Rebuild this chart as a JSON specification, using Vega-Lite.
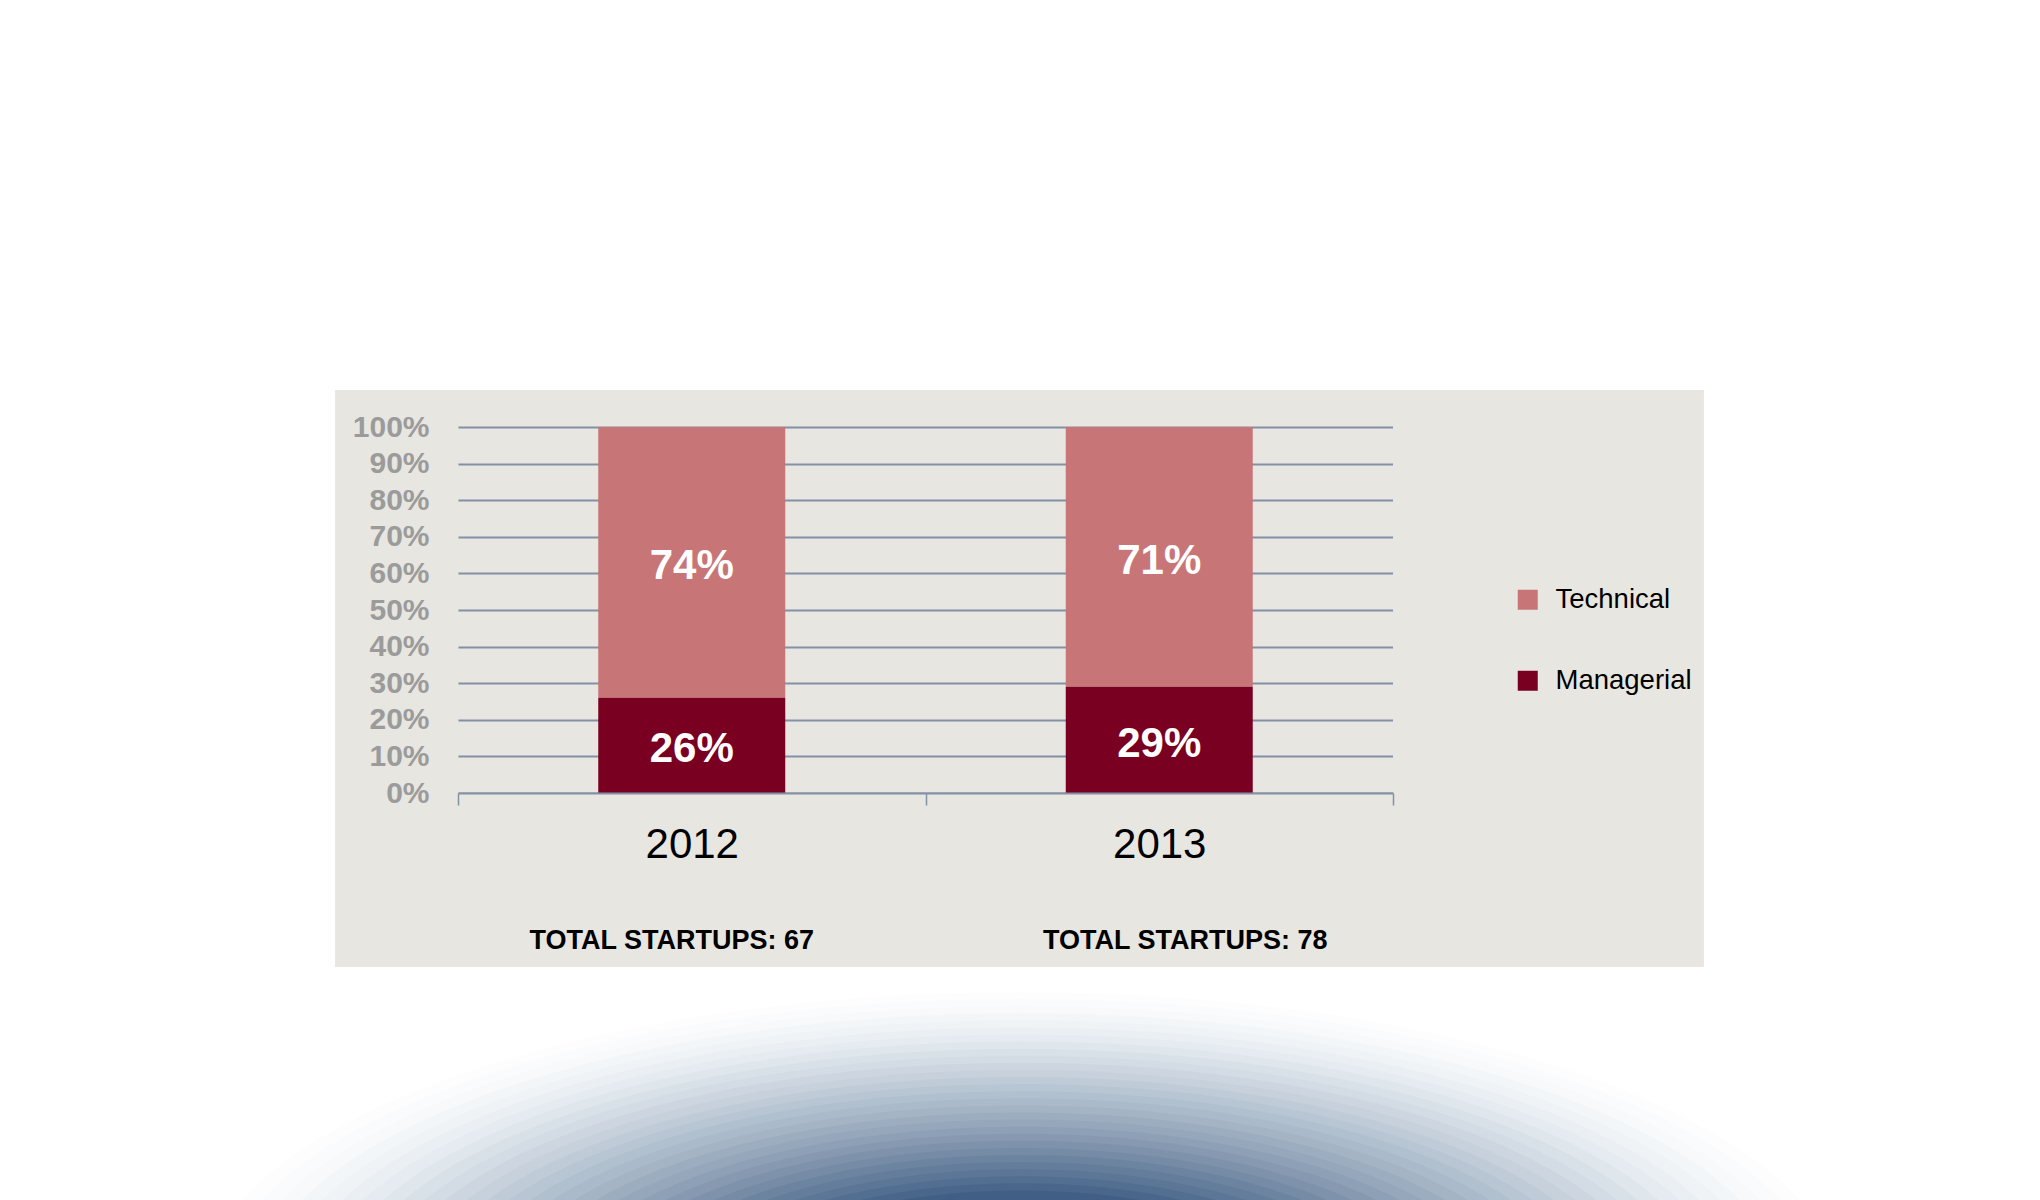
{
  "$schema": "https://vega.github.io/schema/vega-lite/v6.json",
  "width": 935,
  "height": 403,
  "autosize": {"type": "none"},
  "padding": {"left": 458, "top": 390, "right": 647, "bottom": 407},
  "background": "white",
  "datasets": {
    "shares": [
      {"year": 2012, "type": "Technical", "share": 0.74},
      {"year": 2012, "type": "Managerial", "share": 0.26},
      {"year": 2013, "type": "Technical", "share": 0.71},
      {"year": 2013, "type": "Managerial", "share": 0.29}
    ],
    "totals": [
      {"year": 2012, "total": 67, "label": "TOTAL STARTUPS: 67"},
      {"year": 2013, "total": 78, "label": "TOTAL STARTUPS: 78"}
    ],
    "one": [{}]
  },
  "resolve": {
    "scale": {"x": "independent", "y": "independent"},
    "axis": {"x": "independent", "y": "independent"}
  },
  "layer": [
    {
      "data": {"name": "one"},
      "encoding": {
        "x": {"datum": 2012.704, "type": "quantitative", "axis": null, "scale": {"domain": [2011.5, 2013.5], "nice": false, "zero": false}},
        "y": {"datum": -1.385, "type": "quantitative", "axis": null, "scale": {"domain": [0, 1.1011], "nice": false, "zero": false}}
      },
      "layer": [
        {"mark": {"type": "point", "size": 2842596, "opacity": 0.0017}},
        {"mark": {"type": "point", "size": 2716128, "opacity": 0.0071}},
        {"mark": {"type": "point", "size": 2592519, "opacity": 0.0102}},
        {"mark": {"type": "point", "size": 2471796, "opacity": 0.0127}},
        {"mark": {"type": "point", "size": 2353954, "opacity": 0.0148}},
        {"mark": {"type": "point", "size": 2238987, "opacity": 0.0168}},
        {"mark": {"type": "point", "size": 2126901, "opacity": 0.0187}},
        {"mark": {"type": "point", "size": 2017692, "opacity": 0.0206}},
        {"mark": {"type": "point", "size": 1911362, "opacity": 0.0225}},
        {"mark": {"type": "point", "size": 1807910, "opacity": 0.0244}},
        {"mark": {"type": "point", "size": 1707334, "opacity": 0.0264}},
        {"mark": {"type": "point", "size": 1609635, "opacity": 0.0284}},
        {"mark": {"type": "point", "size": 1514819, "opacity": 0.0305}},
        {"mark": {"type": "point", "size": 1422879, "opacity": 0.0328}},
        {"mark": {"type": "point", "size": 1333817, "opacity": 0.0352}},
        {"mark": {"type": "point", "size": 1247633, "opacity": 0.0378}},
        {"mark": {"type": "point", "size": 1164327, "opacity": 0.0405}},
        {"mark": {"type": "point", "size": 1083900, "opacity": 0.0435}},
        {"mark": {"type": "point", "size": 1006350, "opacity": 0.0468}},
        {"mark": {"type": "point", "size": 931677, "opacity": 0.0505}},
        {"mark": {"type": "point", "size": 859885, "opacity": 0.0545}},
        {"mark": {"type": "point", "size": 790970, "opacity": 0.0591}},
        {"mark": {"type": "point", "size": 724933, "opacity": 0.0643}},
        {"mark": {"type": "point", "size": 661775, "opacity": 0.0703}},
        {"mark": {"type": "point", "size": 601493, "opacity": 0.0772}},
        {"mark": {"type": "point", "size": 544091, "opacity": 0.0854}},
        {"mark": {"type": "point", "size": 489566, "opacity": 0.0952}},
        {"mark": {"type": "point", "size": 437918, "opacity": 0.1072}},
        {"mark": {"type": "point", "size": 389151, "opacity": 0.1224}},
        {"mark": {"type": "point", "size": 343257, "opacity": 0.1419}},
        {
          "mark": {"type": "rect", "color": "#e7e6e1"},
          "encoding": {
            "x": {"datum": 2013.5, "type": "quantitative", "axis": null},
            "x2": {"datum": 2014.165},
            "y": {"datum": 1.1011, "type": "quantitative", "axis": null},
            "y2": {"datum": -0.4754}
          }
        },
        {
          "mark": {"type": "rect", "color": "#e7e6e1"},
          "encoding": {
            "x": {"datum": 2011.5, "type": "quantitative", "axis": null},
            "x2": {"datum": 2013.5},
            "y": {"datum": 0, "type": "quantitative", "axis": null},
            "y2": {"datum": -0.4754}
          }
        }
      ]
    },
    {
      "data": {"name": "one"},
      "mark": {"type": "rect", "color": "#e7e6e1"},
      "encoding": {
        "x": {"datum": 2011.237, "type": "quantitative", "axis": null, "scale": {"domain": [2011.5, 2013.5], "nice": false, "zero": false}},
        "x2": {"datum": 2011.5},
        "y": {
          "datum": 1.1011,
          "type": "quantitative",
          "scale": {"domain": [0, 1.1011], "nice": false, "zero": false},
          "axis": {
            "orient": "left",
            "title": null,
            "values": [0, 0.1, 0.2, 0.3, 0.4, 0.5, 0.6, 0.7, 0.8, 0.9, 1],
            "format": ".0%",
            "grid": false,
            "domain": false,
            "ticks": false,
            "zindex": 1,
            "labelFontSize": 30,
            "labelFontWeight": "bold",
            "labelColor": "#9b9b9b",
            "labelPadding": 29,
            "labelOverlap": false,
            "labelFlush": false
          }
        },
        "y2": {"datum": -0.4754}
      }
    },
    {
      "layer": [
        {
          "data": {"name": "shares"},
          "mark": {"type": "bar", "strokeWidth": 0, "width": {"band": 0.4}},
          "encoding": {
            "x": {
              "field": "year",
              "type": "ordinal",
              "scale": {"paddingInner": 0, "paddingOuter": 0},
              "axis": {
                "title": null,
                "labelAngle": 0,
                "tickBand": "extent",
                "grid": false,
                "zindex": 1,
                "domainColor": "#8490a5",
                "domainWidth": 2,
                "tickColor": "#8490a5",
                "tickWidth": 1.5,
                "tickSize": 12,
                "labelFontSize": 42,
                "labelColor": "black",
                "labelPadding": 19
              }
            },
            "y": {
              "field": "share",
              "type": "quantitative",
              "stack": "zero",
              "scale": {"domain": [0, 1.1011], "nice": false, "zero": false},
              "axis": {
                "orient": "left",
                "title": null,
                "values": [0, 0.1, 0.2, 0.3, 0.4, 0.5, 0.6, 0.7, 0.8, 0.9, 1],
                "grid": true,
                "gridColor": "#8490a5",
                "gridWidth": 2,
                "labels": false,
                "domain": false,
                "ticks": false,
                "zindex": 0
              }
            },
            "color": {
              "field": "type",
              "type": "nominal",
              "scale": {"domain": ["Technical", "Managerial"], "range": ["#c77577", "#7a0022"]},
              "legend": {
                "title": null,
                "orient": "none",
                "legendX": 1056,
                "legendY": 196,
                "symbolType": "square",
                "symbolSize": 400,
                "symbolStrokeWidth": 0,
                "labelFontSize": 27.5,
                "labelColor": "black",
                "labelOffset": 14,
                "rowPadding": 52,
                "padding": 0
              }
            },
            "order": {"field": "type", "sort": "ascending"}
          }
        },
        {
          "data": {"name": "shares"},
          "mark": {"type": "text", "color": "white", "fontSize": 42, "fontWeight": "bold", "baseline": "middle", "dy": 4},
          "encoding": {
            "x": {"field": "year", "type": "ordinal"},
            "y": {"field": "share", "type": "quantitative", "stack": "zero", "bandPosition": 0.5},
            "detail": {"field": "type"},
            "order": {"field": "type", "sort": "ascending"},
            "text": {"field": "share", "format": ".0%"}
          }
        },
        {
          "data": {"name": "totals"},
          "transform": [{"filter": "datum.year === 2012"}],
          "mark": {"type": "text", "color": "black", "fontSize": 27, "fontWeight": "bold", "baseline": "middle", "dx": -20},
          "encoding": {
            "x": {"field": "year", "type": "ordinal"},
            "y": {"datum": -0.405, "type": "quantitative"},
            "text": {"field": "label"}
          }
        },
        {
          "data": {"name": "totals"},
          "transform": [{"filter": "datum.year === 2013"}],
          "mark": {"type": "text", "color": "black", "fontSize": 27, "fontWeight": "bold", "baseline": "middle", "dx": 26},
          "encoding": {
            "x": {"field": "year", "type": "ordinal"},
            "y": {"datum": -0.405, "type": "quantitative"},
            "text": {"field": "label"}
          }
        }
      ]
    }
  ],
  "config": {
    "font": "Liberation Sans",
    "view": {"fill": "#e7e6e1", "stroke": null},
    "point": {
      "shape": "M 1 0 C 1 0.2064 0.5523 0.3737 0 0.3737 C -0.5523 0.3737 -1 0.2064 -1 0 C -1 -0.2064 -0.5523 -0.3737 0 -0.3737 C 0.5523 -0.3737 1 -0.2064 1 0 Z",
      "filled": true,
      "color": "#0d3566",
      "strokeWidth": 0
    }
  }
}
